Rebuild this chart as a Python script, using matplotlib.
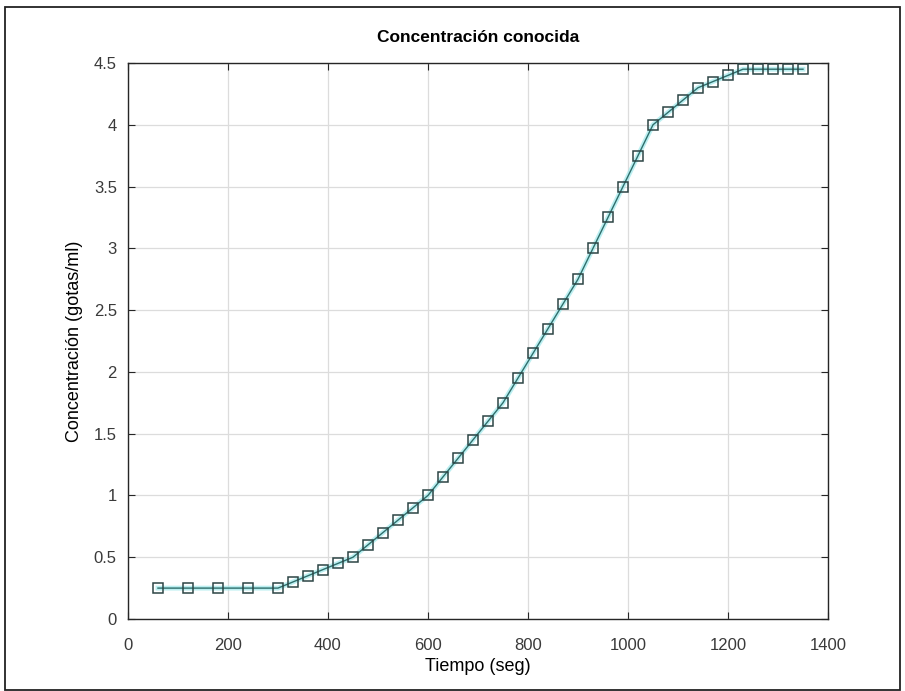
import matplotlib.pyplot as plt
from matplotlib.patches import Rectangle

plt.rcParams['font.family'] = ['Liberation Sans', 'DejaVu Sans']

# tiempo (s) y concentración medida (gotas/ml)
tiempo = [60, 120, 180, 240, 300, 330, 360, 390, 420, 450, 480, 510, 540, 570,
          600, 630, 660, 690, 720, 750, 780, 810, 840, 870, 900, 930, 960, 990,
          1020, 1050, 1080, 1110, 1140, 1170, 1200, 1230, 1260, 1290, 1320, 1350]
concentracion = [0.25, 0.25, 0.25, 0.25, 0.25, 0.30, 0.35, 0.40, 0.45, 0.50,
                 0.60, 0.70, 0.80, 0.90, 1.00, 1.15, 1.30, 1.45, 1.60, 1.75,
                 1.95, 2.15, 2.35, 2.55, 2.75, 3.00, 3.25, 3.50, 3.75, 4.00,
                 4.10, 4.20, 4.30, 4.35, 4.40, 4.45, 4.45, 4.45, 4.45, 4.45]

xticks = [0, 200, 400, 600, 800, 1000, 1200, 1400]
yticks = [0, 0.5, 1, 1.5, 2, 2.5, 3, 3.5, 4, 4.5]
yticklabels = ['0', '0.5', '1', '1.5', '2', '2.5', '3', '3.5', '4', '4.5']

fig = plt.figure(figsize=(9.05, 6.91), dpi=100)
ax = fig.add_axes([0.1414, 0.1042, 0.7735, 0.8046])

# halo cian debajo de la curva
ax.plot(tiempo, concentracion, color='#9fe9ec', lw=3.5, alpha=0.7, zorder=2)
ax.plot(tiempo, concentracion, color='#2f6f6c', lw=1.0, marker='s',
        markersize=7, markerfacecolor='none', markeredgecolor='#2c4545',
        markeredgewidth=1.1, zorder=3)

ax.set_xlim(0, 1400)
ax.set_ylim(0, 4.5)
ax.set_xticks(xticks)
ax.set_yticks(yticks)
ax.set_yticklabels(yticklabels)
ax.grid(True, color='#dcdcdc', lw=0.9)
ax.set_axisbelow(True)
ax.tick_params(direction='in', top=True, right=True, labelsize=12,
               length=5, colors='#262626', labelcolor='#3a3a3a', pad=8)
ax.tick_params(axis='x', pad=14)
for s in ax.spines.values():
    s.set_color('#262626')
    s.set_linewidth(1.0)

ax.set_title('Concentración conocida', fontsize=12.5, fontweight='bold', pad=15)
ax.set_xlabel('Tiempo (seg)', fontsize=13, labelpad=3)
ax.set_ylabel('Concentración (gotas/ml)', fontsize=13, labelpad=8)

# marco exterior
fig.patches.append(Rectangle((0.005, 0.002), 0.99, 0.988, transform=fig.transFigure,
                             fill=False, edgecolor='#222222', lw=1.3))

fig.savefig('out.png', dpi=100)
